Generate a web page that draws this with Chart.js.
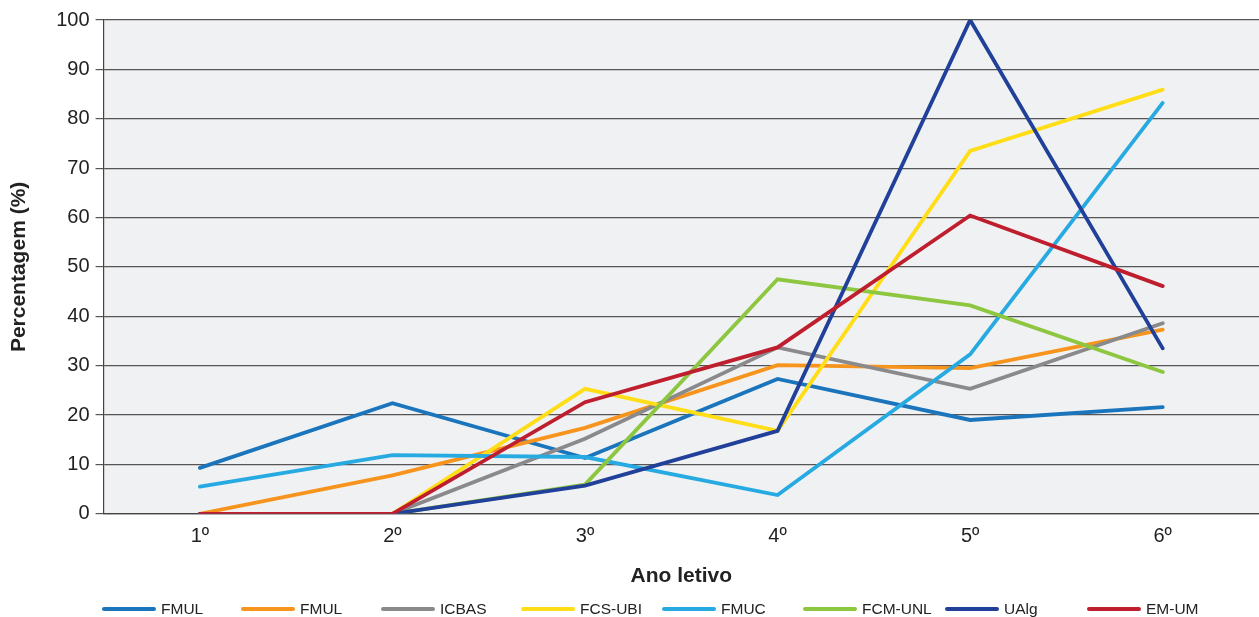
<!DOCTYPE html>
<html>
<head>
<meta charset="utf-8">
<script src="https://cdn.jsdelivr.net/npm/chart.js@4"></script>
<style>
  body { margin: 0; background: #fff; overflow: hidden; }
  #wrap { position: relative; width: 1259px; height: 617px; }
  canvas { display: block; }
  #legend { position: absolute; left: 102px; top: 600px; height: 18px; font: 15.5px "Liberation Sans", Arial, sans-serif; color: #222; }
  .item { position: absolute; top: 0; white-space: nowrap; }
  .item span.ln { position: absolute; top: 7px; width: 54px; height: 4px; border-radius: 2px; }
  .item span.tx { position: absolute; left: 59px; top: 0; line-height: 18px; }
</style>
</head>
<body>
<div id="wrap">
  <canvas id="chart" width="1259" height="617"></canvas>
  <div id="legend"></div>
</div>
<script>
// categories
const years = ["1º", "2º", "3º", "4º", "5º", "6º"];
const yTicks = [0, 10, 20, 30, 40, 50, 60, 70, 80, 90, 100];

// series (percent)
const fmul1 = [9.3, 22.4, 11.3, 27.3, 19.0, 21.6];
const fmul2 = [0, 7.8, 17.4, 30.1, 29.5, 37.3];
const icbas = [0, 0, 15.2, 33.7, 25.3, 38.6];
const fcsUbi = [0, 0, 25.3, 16.8, 73.5, 85.9];
const fmuc = [5.5, 11.9, 11.5, 3.8, 32.3, 83.2];
const fcmUnl = [0, 0, 5.9, 47.5, 42.2, 28.7];
const ualg = [0, 0, 5.7, 16.8, 100, 33.5];
const emUm = [0, 0, 22.6, 33.7, 60.4, 46.1];

const seriesNames = ["FMUL", "FMUL", "ICBAS", "FCS-UBI", "FMUC", "FCM-UNL", "UAlg", "EM-UM"];
const seriesData = [fmul1, fmul2, icbas, fcsUbi, fmuc, fcmUnl, ualg, emUm];
const seriesColors = ["#1b75bc", "#f7941d", "#8a8a8c", "#ffde17", "#27aae1", "#8dc63f", "#21409a", "#be1e2d"];

const font = "'Liberation Sans', Arial, sans-serif";

// grey plot background
const plotBg = {
  id: "plotBg",
  beforeDraw(chart) {
    const a = chart.chartArea;
    const ctx = chart.ctx;
    ctx.save();
    ctx.fillStyle = "#f0f1f3";
    ctx.fillRect(a.left, a.top, a.right - a.left, a.bottom - a.top);
    ctx.restore();
  }
};

const datasets = seriesNames.map((name, i) => ({
  label: name,
  data: seriesData[i],
  borderColor: seriesColors[i],
  backgroundColor: seriesColors[i],
  borderWidth: 3.8,
  borderCapStyle: "round",
  pointRadius: 0,
  tension: 0,
  fill: false,
  order: seriesNames.length - 1 - i
}));

new Chart(document.getElementById("chart"), {
  type: "line",
  data: { labels: years, datasets: datasets },
  options: {
    responsive: false,
    devicePixelRatio: 1,
    animation: false,
    layout: { padding: { top: 20, right: 0, bottom: 28, left: 0 } },
    plugins: {
      legend: { display: false },
      tooltip: { enabled: false }
    },
    scales: {
      x: {
        offset: true,
        grid: { display: false, drawTicks: false },
        border: { display: true, color: "#444", width: 1.2 },
        ticks: { color: "#222", font: { family: font, size: 20 }, padding: 11 },
        title: {
          display: true, text: "Ano letivo", color: "#222",
          font: { family: font, size: 21, weight: "bold" },
          padding: { top: 4, bottom: 0 }
        }
      },
      y: {
        min: 0, max: 100,
        afterBuildTicks(axis) { axis.ticks = yTicks.map(v => ({ value: v })); },
        grid: { color: "#555", lineWidth: 1.2, tickLength: 8, drawTicks: true },
        border: { display: true, color: "#444", width: 1.2 },
        ticks: { color: "#222", font: { family: font, size: 20 }, padding: 6 },
        title: {
          display: true, text: "Percentagem (%)", color: "#222",
          font: { family: font, size: 21, weight: "bold" },
          padding: { top: 7, bottom: 18 }
        }
      }
    }
  },
  plugins: [plotBg]
});

// legend with fixed column spacing
const legendX = [0, 139, 279, 419, 560, 701, 843, 985];
const legend = document.getElementById("legend");
seriesNames.forEach((name, i) => {
  const item = document.createElement("div");
  item.className = "item";
  item.style.left = legendX[i] + "px";
  const ln = document.createElement("span");
  ln.className = "ln";
  ln.style.background = seriesColors[i];
  const tx = document.createElement("span");
  tx.className = "tx";
  tx.textContent = name;
  item.appendChild(ln);
  item.appendChild(tx);
  legend.appendChild(item);
});
</script>
</body>
</html>
